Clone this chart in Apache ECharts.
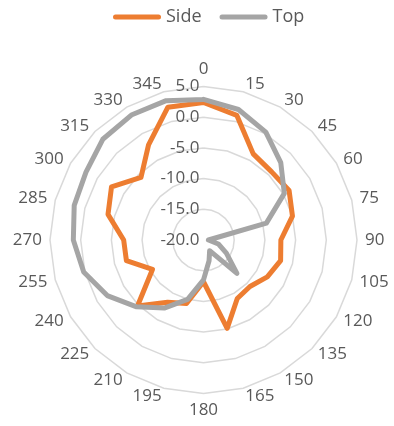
<!DOCTYPE html>
<html>
<head>
<meta charset="utf-8">
<script src="https://cdn.jsdelivr.net/npm/echarts@6/dist/echarts.min.js"></script>
<style>
  html, body { margin: 0; padding: 0; background: #ffffff; }
  #chart { width: 394px; height: 426px; }
</style>
</head>
<body>
<div id="chart"></div>
<script>
// Directions in degrees, clockwise from the top
const angles = ['0', '15', '30', '45', '60', '75', '90', '105', '120', '135', '150', '165',
                '180', '195', '210', '225', '240', '255', '270', '285', '300', '315', '330', '345'];

// Response per direction
const sideValues = [2.4, 1.0, -3.8, -4.3, -3.9, -5.0, -7.4, -7.0, -8.0, -9.3, -9.0, -5.1,
                    -13.2, -9.3, -8.3, -4.8, -10.4, -7.0, -7.0, -3.9, -2.7, -5.6, -2.1, 2.4];
const topValues = [2.9, 2.0, 0.3, -2.2, -4.8, -9.4, -19.2, -17.5, -15.7, -12.3, -18.0, -16.5,
                   -13.5, -10.0, -7.2, -4.6, -1.9, 0.2, 1.2, 1.8, 2.1, 3.2, 3.5, 3.5];

const axisMin = -20;
const axisMax = 5;
const axisStep = 5;

const FONT = '"Open Sans", "Noto Sans", sans-serif';
const TEXT_COLOR = '#595959';

// The radar lays indicators out counterclockwise; feed them in reverse so they run clockwise.
const order = angles.map((_, i) => (angles.length - i) % angles.length);

const indicator = order.map((k, j) => {
  const ind = { name: angles[k], min: axisMin, max: axisMax };
  if (j === 0) {
    // value labels only along the 0° spoke
    ind.axisLabel = {
      show: true,
      color: TEXT_COLOR,
      fontFamily: FONT,
      fontSize: 17,
      margin: 4,
      formatter: v => Number(v).toFixed(1)
    };
  }
  return ind;
});

const reorder = arr => order.map(k => arr[k]);

const chart = echarts.init(document.getElementById('chart'), null, { renderer: 'canvas' });
chart.setOption({
  animation: false,
  backgroundColor: '#ffffff',
  legend: {
    top: 3,
    left: 108,
    itemWidth: 48,
    itemHeight: 5,
    itemGap: 18,
    icon: 'path://M2.5,0 L45.5,0 A2.5,2.5 0 0 1 45.5,5 L2.5,5 A2.5,2.5 0 0 1 2.5,0 Z',
    textStyle: { color: TEXT_COLOR, fontFamily: FONT, fontSize: 18 },
    data: ['Side', 'Top']
  },
  radar: {
    center: [203.5, 240],
    radius: 153.5,
    startAngle: 90,
    shape: 'polygon',
    splitNumber: (axisMax - axisMin) / axisStep,
    indicator: indicator,
    axisName: { color: TEXT_COLOR, fontFamily: FONT, fontSize: 17 },
    nameGap: 8,
    axisLine: { show: false },
    axisTick: { show: false },
    axisLabel: { show: false },
    splitArea: { show: false },
    splitLine: { lineStyle: { color: '#d9d9d9', width: 1.5 } }
  },
  series: [{
    type: 'radar',
    symbol: 'none',
    data: [
      {
        name: 'Side',
        value: reorder(sideValues),
        lineStyle: { color: '#ED7D31', width: 5, join: 'round', cap: 'round' },
        itemStyle: { color: '#ED7D31' }
      },
      {
        name: 'Top',
        value: reorder(topValues),
        lineStyle: { color: '#A5A5A5', width: 5, join: 'round', cap: 'round' },
        itemStyle: { color: '#A5A5A5' }
      }
    ]
  }]
});
</script>
</body>
</html>
